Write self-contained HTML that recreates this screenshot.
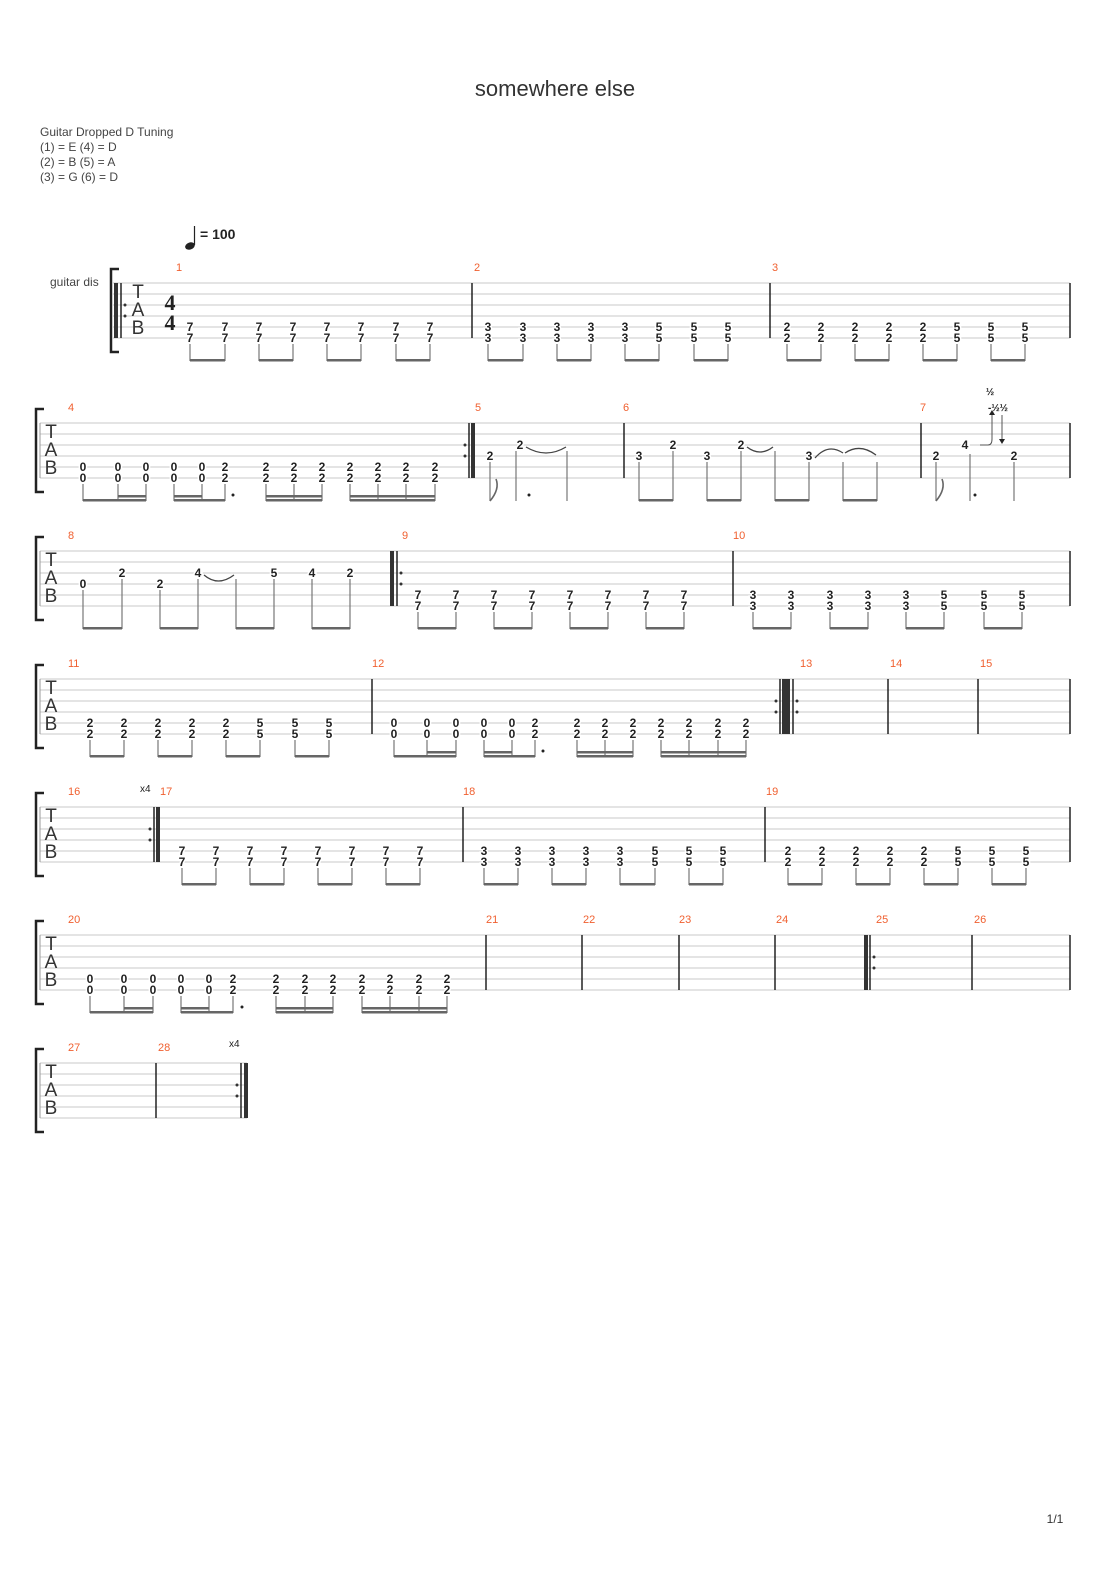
<!DOCTYPE html>
<html><head><meta charset="utf-8"><style>
body{margin:0;background:#fff;width:1110px;height:1570px;overflow:hidden}
svg{display:block}
.n{font:bold 12px "Liberation Sans",sans-serif;fill:#222;text-anchor:middle;stroke:#fff;stroke-width:3px;paint-order:stroke}
.l{font:11px "Liberation Sans",sans-serif;fill:#f06030}
.t{font:12px "Liberation Sans",sans-serif;fill:#444}
.tab{font:19px "Liberation Sans",sans-serif;fill:#333;text-anchor:middle}
.sl line{stroke:#c8c8c8;stroke-width:1}
.st{stroke:#777;stroke-width:1.2}
.bm{fill:#666}
.bar{stroke:#222;stroke-width:1.5}
</style></head><body>
<svg width="1110" height="1570" viewBox="0 0 1110 1570" xmlns="http://www.w3.org/2000/svg">
<text x="555" y="96" text-anchor="middle" style="font:22px 'Liberation Sans',sans-serif;fill:#333">somewhere else</text>
<text class="t" x="40" y="136">Guitar Dropped D Tuning</text>
<text class="t" x="40" y="151">(1) = E (4) = D</text>
<text class="t" x="40" y="166">(2) = B (5) = A</text>
<text class="t" x="40" y="181">(3) = G (6) = D</text>
<ellipse cx="190" cy="246" rx="5" ry="3.5" fill="#222" transform="rotate(-20 190 246)"/>
<line x1="194.5" y1="245" x2="194.5" y2="226" stroke="#222" stroke-width="1.2"/>
<text x="200" y="239" style="font:bold 14px 'Liberation Sans',sans-serif;fill:#222">= 100</text>
<text class="t" x="50" y="286">guitar dis</text>

<!-- SYSTEM 1 -->
<g transform="translate(0,283)">
<g class="sl"><line x1="113" x2="1070" y1="0" y2="0"/><line x1="113" x2="1070" y1="11" y2="11"/><line x1="113" x2="1070" y1="22" y2="22"/><line x1="113" x2="1070" y1="33" y2="33"/><line x1="113" x2="1070" y1="44" y2="44"/><line x1="113" x2="1070" y1="55" y2="55"/></g>
<path d="M119,-14 h-8 v83 h8" fill="none" stroke="#222" stroke-width="2.5"/>
<rect x="114" y="0" width="4" height="55" fill="#333"/><line x1="121" x2="121" y1="0" y2="55" class="bar" stroke-width="1"/>
<circle cx="125" cy="22" r="1.5" fill="#333"/><circle cx="125" cy="33" r="1.5" fill="#333"/>
<text class="tab" x="138" y="15">T</text><text class="tab" x="138" y="33">A</text><text class="tab" x="138" y="51">B</text>
<text x="170" y="27" text-anchor="middle" style="font:bold 22px 'Liberation Serif',serif;fill:#222">4</text>
<text x="170" y="47" text-anchor="middle" style="font:bold 22px 'Liberation Serif',serif;fill:#222">4</text>
<text class="l" x="176" y="-12">1</text><text class="l" x="474" y="-12">2</text><text class="l" x="772" y="-12">3</text>
<line class="bar" x1="472" x2="472" y1="0" y2="55"/><line class="bar" x1="770" x2="770" y1="0" y2="55"/><line class="bar" x1="1070" x2="1070" y1="0" y2="55"/>
<g>
<text class="n" x="190" y="48">7</text><text class="n" x="190" y="59">7</text><text class="n" x="225" y="48">7</text><text class="n" x="225" y="59">7</text>
<text class="n" x="259" y="48">7</text><text class="n" x="259" y="59">7</text><text class="n" x="293" y="48">7</text><text class="n" x="293" y="59">7</text>
<text class="n" x="327" y="48">7</text><text class="n" x="327" y="59">7</text><text class="n" x="361" y="48">7</text><text class="n" x="361" y="59">7</text>
<text class="n" x="396" y="48">7</text><text class="n" x="396" y="59">7</text><text class="n" x="430" y="48">7</text><text class="n" x="430" y="59">7</text>
<text class="n" x="488" y="48">3</text><text class="n" x="488" y="59">3</text><text class="n" x="523" y="48">3</text><text class="n" x="523" y="59">3</text>
<text class="n" x="557" y="48">3</text><text class="n" x="557" y="59">3</text><text class="n" x="591" y="48">3</text><text class="n" x="591" y="59">3</text>
<text class="n" x="625" y="48">3</text><text class="n" x="625" y="59">3</text><text class="n" x="659" y="48">5</text><text class="n" x="659" y="59">5</text>
<text class="n" x="694" y="48">5</text><text class="n" x="694" y="59">5</text><text class="n" x="728" y="48">5</text><text class="n" x="728" y="59">5</text>
<text class="n" x="787" y="48">2</text><text class="n" x="787" y="59">2</text><text class="n" x="821" y="48">2</text><text class="n" x="821" y="59">2</text>
<text class="n" x="855" y="48">2</text><text class="n" x="855" y="59">2</text><text class="n" x="889" y="48">2</text><text class="n" x="889" y="59">2</text>
<text class="n" x="923" y="48">2</text><text class="n" x="923" y="59">2</text><text class="n" x="957" y="48">5</text><text class="n" x="957" y="59">5</text>
<text class="n" x="991" y="48">5</text><text class="n" x="991" y="59">5</text><text class="n" x="1025" y="48">5</text><text class="n" x="1025" y="59">5</text>
</g>
<path class="st" d="M190,61V78M225,61V78M259,61V78M293,61V78M327,61V78M361,61V78M396,61V78M430,61V78M488,61V78M523,61V78M557,61V78M591,61V78M625,61V78M659,61V78M694,61V78M728,61V78M787,61V78M821,61V78M855,61V78M889,61V78M923,61V78M957,61V78M991,61V78M1025,61V78"/>
<g class="bm"><rect x="190" y="76" width="35" height="2.5"/><rect x="259" y="76" width="34" height="2.5"/><rect x="327" y="76" width="34" height="2.5"/><rect x="396" y="76" width="34" height="2.5"/>
<rect x="488" y="76" width="35" height="2.5"/><rect x="557" y="76" width="34" height="2.5"/><rect x="625" y="76" width="34" height="2.5"/><rect x="694" y="76" width="34" height="2.5"/>
<rect x="787" y="76" width="34" height="2.5"/><rect x="855" y="76" width="34" height="2.5"/><rect x="923" y="76" width="34" height="2.5"/><rect x="991" y="76" width="34" height="2.5"/></g>
</g>

<!-- SYSTEM 2 -->
<g transform="translate(0,423)">
<g class="sl"><line x1="40" x2="1070" y1="0" y2="0"/><line x1="40" x2="1070" y1="11" y2="11"/><line x1="40" x2="1070" y1="22" y2="22"/><line x1="40" x2="1070" y1="33" y2="33"/><line x1="40" x2="1070" y1="44" y2="44"/><line x1="40" x2="1070" y1="55" y2="55"/></g>
<path d="M44,-14 h-8 v83 h8" fill="none" stroke="#222" stroke-width="2.5"/><line x1="40" x2="40" y1="0" y2="55" stroke="#999"/>
<text class="tab" x="51" y="15">T</text><text class="tab" x="51" y="33">A</text><text class="tab" x="51" y="51">B</text>
<text class="l" x="68" y="-12">4</text><text class="l" x="475" y="-12">5</text><text class="l" x="623" y="-12">6</text><text class="l" x="920" y="-12">7</text>
<circle cx="465" cy="22" r="1.5" fill="#333"/><circle cx="465" cy="33" r="1.5" fill="#333"/><line x1="469" x2="469" y1="0" y2="55" class="bar" stroke-width="1"/><rect x="471" y="0" width="4" height="55" fill="#333"/>
<line class="bar" x1="624" x2="624" y1="0" y2="55"/><line class="bar" x1="921" x2="921" y1="0" y2="55"/><line class="bar" x1="1070" x2="1070" y1="0" y2="55"/>
<text class="n" x="83" y="48">0</text><text class="n" x="83" y="59">0</text><text class="n" x="118" y="48">0</text><text class="n" x="118" y="59">0</text>
<text class="n" x="146" y="48">0</text><text class="n" x="146" y="59">0</text><text class="n" x="174" y="48">0</text><text class="n" x="174" y="59">0</text>
<text class="n" x="202" y="48">0</text><text class="n" x="202" y="59">0</text><text class="n" x="225" y="48">2</text><text class="n" x="225" y="59">2</text>
<text class="n" x="266" y="48">2</text><text class="n" x="266" y="59">2</text><text class="n" x="294" y="48">2</text><text class="n" x="294" y="59">2</text>
<text class="n" x="322" y="48">2</text><text class="n" x="322" y="59">2</text><text class="n" x="350" y="48">2</text><text class="n" x="350" y="59">2</text>
<text class="n" x="378" y="48">2</text><text class="n" x="378" y="59">2</text><text class="n" x="406" y="48">2</text><text class="n" x="406" y="59">2</text>
<text class="n" x="435" y="48">2</text><text class="n" x="435" y="59">2</text>
<path class="st" d="M83,61V78M118,61V78M146,61V78M174,61V78M202,61V78M225,61V78M266,61V78M294,61V78M322,61V78M350,61V78M378,61V78M406,61V78M435,61V78"/>
<g class="bm"><rect x="83" y="76" width="63" height="2.5"/><rect x="118" y="72" width="28" height="2.5"/><rect x="174" y="76" width="51" height="2.5"/><rect x="174" y="72" width="28" height="2.5"/>
<rect x="266" y="76" width="56" height="2.5"/><rect x="266" y="72" width="56" height="2.5"/><rect x="350" y="76" width="85" height="2.5"/><rect x="350" y="72" width="85" height="2.5"/></g>
<circle cx="233" cy="72" r="1.5" fill="#222"/>
<!-- m5 -->
<text class="n" x="490" y="37">2</text><text class="n" x="520" y="26">2</text>
<path d="M526,24 Q546,36 566,24" fill="none" stroke="#444" stroke-width="1.3"/>
<path class="st" d="M490,39V78M516,28V78M567,28V78"/>
<path d="M490,78 Q500,66 496,56" fill="none" stroke="#666" stroke-width="1.6"/>
<circle cx="529" cy="72" r="1.5" fill="#222"/>
<!-- m6 -->
<text class="n" x="639" y="37">3</text><text class="n" x="673" y="26">2</text><text class="n" x="707" y="37">3</text><text class="n" x="741" y="26">2</text><text class="n" x="809" y="37">3</text>
<path d="M747,24 Q760,34 773,24M815,35 Q828,20 843,30M845,30 Q860,20 876,32" fill="none" stroke="#444" stroke-width="1.3"/>
<path class="st" d="M639,39V78M673,28V78M707,39V78M741,28V78M775,28V78M809,39V78M843,39V78M877,39V78"/>
<g class="bm"><rect x="639" y="76" width="34" height="2.5"/><rect x="707" y="76" width="34" height="2.5"/><rect x="775" y="76" width="34" height="2.5"/><rect x="843" y="76" width="34" height="2.5"/></g>
<!-- m7 -->
<text class="n" x="936" y="37">2</text><text class="n" x="965" y="26">4</text><text class="n" x="1014" y="37">2</text>
<path class="st" d="M936,39V78M970,31V78M1014,39V78"/>
<path d="M936,78 Q946,66 942,56" fill="none" stroke="#666" stroke-width="1.6"/>
<circle cx="975" cy="72" r="1.5" fill="#222"/>
<path d="M980,22 H988 Q992,22 992,16 V-8 M1002,-8 V18" fill="none" stroke="#555" stroke-width="1"/>
<path d="M989,-8 l3,-5 l3,5z M999,16 l3,5 l3,-5z" fill="#222"/>
<text x="990" y="-28" text-anchor="middle" style="font:bold 10px 'Liberation Sans',sans-serif;fill:#222">½</text>
<text x="998" y="-12" text-anchor="middle" style="font:bold 10px 'Liberation Sans',sans-serif;fill:#222">-½½</text>
</g>

<!-- SYSTEM 3 -->
<g transform="translate(0,551)">
<g class="sl"><line x1="40" x2="1070" y1="0" y2="0"/><line x1="40" x2="1070" y1="11" y2="11"/><line x1="40" x2="1070" y1="22" y2="22"/><line x1="40" x2="1070" y1="33" y2="33"/><line x1="40" x2="1070" y1="44" y2="44"/><line x1="40" x2="1070" y1="55" y2="55"/></g>
<path d="M44,-14 h-8 v83 h8" fill="none" stroke="#222" stroke-width="2.5"/><line x1="40" x2="40" y1="0" y2="55" stroke="#999"/>
<text class="tab" x="51" y="15">T</text><text class="tab" x="51" y="33">A</text><text class="tab" x="51" y="51">B</text>
<text class="l" x="68" y="-12">8</text><text class="l" x="402" y="-12">9</text><text class="l" x="733" y="-12">10</text>
<rect x="390" y="0" width="4" height="55" fill="#333"/><line x1="397" x2="397" y1="0" y2="55" class="bar" stroke-width="1"/><circle cx="401" cy="22" r="1.5" fill="#333"/><circle cx="401" cy="33" r="1.5" fill="#333"/>
<line class="bar" x1="733" x2="733" y1="0" y2="55"/><line class="bar" x1="1070" x2="1070" y1="0" y2="55"/>
<text class="n" x="83" y="37">0</text><text class="n" x="122" y="26">2</text><text class="n" x="160" y="37">2</text><text class="n" x="198" y="26">4</text><text class="n" x="274" y="26">5</text><text class="n" x="312" y="26">4</text><text class="n" x="350" y="26">2</text>
<path d="M204,24 Q218,36 234,24" fill="none" stroke="#444" stroke-width="1.3"/>
<path class="st" d="M83,39V78M122,28V78M160,39V78M198,28V78M236,28V78M274,28V78M312,28V78M350,28V78"/>
<g class="bm"><rect x="83" y="76" width="39" height="2.5"/><rect x="160" y="76" width="38" height="2.5"/><rect x="236" y="76" width="38" height="2.5"/><rect x="312" y="76" width="38" height="2.5"/></g>
<text class="n" x="418" y="48">7</text><text class="n" x="418" y="59">7</text><text class="n" x="456" y="48">7</text><text class="n" x="456" y="59">7</text>
<text class="n" x="494" y="48">7</text><text class="n" x="494" y="59">7</text><text class="n" x="532" y="48">7</text><text class="n" x="532" y="59">7</text>
<text class="n" x="570" y="48">7</text><text class="n" x="570" y="59">7</text><text class="n" x="608" y="48">7</text><text class="n" x="608" y="59">7</text>
<text class="n" x="646" y="48">7</text><text class="n" x="646" y="59">7</text><text class="n" x="684" y="48">7</text><text class="n" x="684" y="59">7</text>
<text class="n" x="753" y="48">3</text><text class="n" x="753" y="59">3</text><text class="n" x="791" y="48">3</text><text class="n" x="791" y="59">3</text>
<text class="n" x="830" y="48">3</text><text class="n" x="830" y="59">3</text><text class="n" x="868" y="48">3</text><text class="n" x="868" y="59">3</text>
<text class="n" x="906" y="48">3</text><text class="n" x="906" y="59">3</text><text class="n" x="944" y="48">5</text><text class="n" x="944" y="59">5</text>
<text class="n" x="984" y="48">5</text><text class="n" x="984" y="59">5</text><text class="n" x="1022" y="48">5</text><text class="n" x="1022" y="59">5</text>
<path class="st" d="M418,61V78M456,61V78M494,61V78M532,61V78M570,61V78M608,61V78M646,61V78M684,61V78M753,61V78M791,61V78M830,61V78M868,61V78M906,61V78M944,61V78M984,61V78M1022,61V78"/>
<g class="bm"><rect x="418" y="76" width="38" height="2.5"/><rect x="494" y="76" width="38" height="2.5"/><rect x="570" y="76" width="38" height="2.5"/><rect x="646" y="76" width="38" height="2.5"/>
<rect x="753" y="76" width="38" height="2.5"/><rect x="830" y="76" width="38" height="2.5"/><rect x="906" y="76" width="38" height="2.5"/><rect x="984" y="76" width="38" height="2.5"/></g>
</g>

<!-- SYSTEM 4 -->
<g transform="translate(0,679)">
<g class="sl"><line x1="40" x2="1070" y1="0" y2="0"/><line x1="40" x2="1070" y1="11" y2="11"/><line x1="40" x2="1070" y1="22" y2="22"/><line x1="40" x2="1070" y1="33" y2="33"/><line x1="40" x2="1070" y1="44" y2="44"/><line x1="40" x2="1070" y1="55" y2="55"/></g>
<path d="M44,-14 h-8 v83 h8" fill="none" stroke="#222" stroke-width="2.5"/><line x1="40" x2="40" y1="0" y2="55" stroke="#999"/>
<text class="tab" x="51" y="15">T</text><text class="tab" x="51" y="33">A</text><text class="tab" x="51" y="51">B</text>
<text class="l" x="68" y="-12">11</text><text class="l" x="372" y="-12">12</text><text class="l" x="800" y="-12">13</text><text class="l" x="890" y="-12">14</text><text class="l" x="980" y="-12">15</text>
<line class="bar" x1="372" x2="372" y1="0" y2="55"/>
<circle cx="776" cy="22" r="1.5" fill="#333"/><circle cx="776" cy="33" r="1.5" fill="#333"/><line x1="780" x2="780" y1="0" y2="55" class="bar" stroke-width="1"/><rect x="782" y="0" width="8" height="55" fill="#333"/><line x1="793" x2="793" y1="0" y2="55" class="bar" stroke-width="1"/><circle cx="797" cy="22" r="1.5" fill="#333"/><circle cx="797" cy="33" r="1.5" fill="#333"/>
<line class="bar" x1="888" x2="888" y1="0" y2="55"/><line class="bar" x1="978" x2="978" y1="0" y2="55"/><line class="bar" x1="1070" x2="1070" y1="0" y2="55"/>
<text class="n" x="90" y="48">2</text><text class="n" x="90" y="59">2</text><text class="n" x="124" y="48">2</text><text class="n" x="124" y="59">2</text>
<text class="n" x="158" y="48">2</text><text class="n" x="158" y="59">2</text><text class="n" x="192" y="48">2</text><text class="n" x="192" y="59">2</text>
<text class="n" x="226" y="48">2</text><text class="n" x="226" y="59">2</text><text class="n" x="260" y="48">5</text><text class="n" x="260" y="59">5</text>
<text class="n" x="295" y="48">5</text><text class="n" x="295" y="59">5</text><text class="n" x="329" y="48">5</text><text class="n" x="329" y="59">5</text>
<text class="n" x="394" y="48">0</text><text class="n" x="394" y="59">0</text><text class="n" x="427" y="48">0</text><text class="n" x="427" y="59">0</text>
<text class="n" x="456" y="48">0</text><text class="n" x="456" y="59">0</text><text class="n" x="484" y="48">0</text><text class="n" x="484" y="59">0</text>
<text class="n" x="512" y="48">0</text><text class="n" x="512" y="59">0</text><text class="n" x="535" y="48">2</text><text class="n" x="535" y="59">2</text>
<text class="n" x="577" y="48">2</text><text class="n" x="577" y="59">2</text><text class="n" x="605" y="48">2</text><text class="n" x="605" y="59">2</text>
<text class="n" x="633" y="48">2</text><text class="n" x="633" y="59">2</text><text class="n" x="661" y="48">2</text><text class="n" x="661" y="59">2</text>
<text class="n" x="689" y="48">2</text><text class="n" x="689" y="59">2</text><text class="n" x="718" y="48">2</text><text class="n" x="718" y="59">2</text>
<text class="n" x="746" y="48">2</text><text class="n" x="746" y="59">2</text>
<path class="st" d="M90,61V78M124,61V78M158,61V78M192,61V78M226,61V78M260,61V78M295,61V78M329,61V78M394,61V78M427,61V78M456,61V78M484,61V78M512,61V78M535,61V78M577,61V78M605,61V78M633,61V78M661,61V78M689,61V78M718,61V78M746,61V78"/>
<g class="bm"><rect x="90" y="76" width="34" height="2.5"/><rect x="158" y="76" width="34" height="2.5"/><rect x="226" y="76" width="34" height="2.5"/><rect x="295" y="76" width="34" height="2.5"/>
<rect x="394" y="76" width="62" height="2.5"/><rect x="427" y="72" width="29" height="2.5"/><rect x="484" y="76" width="51" height="2.5"/><rect x="484" y="72" width="28" height="2.5"/>
<rect x="577" y="76" width="56" height="2.5"/><rect x="577" y="72" width="56" height="2.5"/><rect x="661" y="76" width="85" height="2.5"/><rect x="661" y="72" width="85" height="2.5"/></g>
<circle cx="543" cy="72" r="1.5" fill="#222"/>
</g>

<!-- SYSTEM 5 -->
<g transform="translate(0,807)">
<g class="sl"><line x1="40" x2="1070" y1="0" y2="0"/><line x1="40" x2="1070" y1="11" y2="11"/><line x1="40" x2="1070" y1="22" y2="22"/><line x1="40" x2="1070" y1="33" y2="33"/><line x1="40" x2="1070" y1="44" y2="44"/><line x1="40" x2="1070" y1="55" y2="55"/></g>
<path d="M44,-14 h-8 v83 h8" fill="none" stroke="#222" stroke-width="2.5"/><line x1="40" x2="40" y1="0" y2="55" stroke="#999"/>
<text class="tab" x="51" y="15">T</text><text class="tab" x="51" y="33">A</text><text class="tab" x="51" y="51">B</text>
<text class="l" x="68" y="-12">16</text><text class="l" x="160" y="-12">17</text><text class="l" x="463" y="-12">18</text><text class="l" x="766" y="-12">19</text>
<text x="140" y="-15" style="font:10px 'Liberation Sans',sans-serif;fill:#222">x4</text>
<circle cx="150" cy="22" r="1.5" fill="#333"/><circle cx="150" cy="33" r="1.5" fill="#333"/><line x1="154" x2="154" y1="0" y2="55" class="bar" stroke-width="1"/><rect x="156" y="0" width="4" height="55" fill="#333"/>
<line class="bar" x1="463" x2="463" y1="0" y2="55"/><line class="bar" x1="765" x2="765" y1="0" y2="55"/><line class="bar" x1="1070" x2="1070" y1="0" y2="55"/>
<text class="n" x="182" y="48">7</text><text class="n" x="182" y="59">7</text><text class="n" x="216" y="48">7</text><text class="n" x="216" y="59">7</text>
<text class="n" x="250" y="48">7</text><text class="n" x="250" y="59">7</text><text class="n" x="284" y="48">7</text><text class="n" x="284" y="59">7</text>
<text class="n" x="318" y="48">7</text><text class="n" x="318" y="59">7</text><text class="n" x="352" y="48">7</text><text class="n" x="352" y="59">7</text>
<text class="n" x="386" y="48">7</text><text class="n" x="386" y="59">7</text><text class="n" x="420" y="48">7</text><text class="n" x="420" y="59">7</text>
<text class="n" x="484" y="48">3</text><text class="n" x="484" y="59">3</text><text class="n" x="518" y="48">3</text><text class="n" x="518" y="59">3</text>
<text class="n" x="552" y="48">3</text><text class="n" x="552" y="59">3</text><text class="n" x="586" y="48">3</text><text class="n" x="586" y="59">3</text>
<text class="n" x="620" y="48">3</text><text class="n" x="620" y="59">3</text><text class="n" x="655" y="48">5</text><text class="n" x="655" y="59">5</text>
<text class="n" x="689" y="48">5</text><text class="n" x="689" y="59">5</text><text class="n" x="723" y="48">5</text><text class="n" x="723" y="59">5</text>
<text class="n" x="788" y="48">2</text><text class="n" x="788" y="59">2</text><text class="n" x="822" y="48">2</text><text class="n" x="822" y="59">2</text>
<text class="n" x="856" y="48">2</text><text class="n" x="856" y="59">2</text><text class="n" x="890" y="48">2</text><text class="n" x="890" y="59">2</text>
<text class="n" x="924" y="48">2</text><text class="n" x="924" y="59">2</text><text class="n" x="958" y="48">5</text><text class="n" x="958" y="59">5</text>
<text class="n" x="992" y="48">5</text><text class="n" x="992" y="59">5</text><text class="n" x="1026" y="48">5</text><text class="n" x="1026" y="59">5</text>
<path class="st" d="M182,61V78M216,61V78M250,61V78M284,61V78M318,61V78M352,61V78M386,61V78M420,61V78M484,61V78M518,61V78M552,61V78M586,61V78M620,61V78M655,61V78M689,61V78M723,61V78M788,61V78M822,61V78M856,61V78M890,61V78M924,61V78M958,61V78M992,61V78M1026,61V78"/>
<g class="bm"><rect x="182" y="76" width="34" height="2.5"/><rect x="250" y="76" width="34" height="2.5"/><rect x="318" y="76" width="34" height="2.5"/><rect x="386" y="76" width="34" height="2.5"/>
<rect x="484" y="76" width="34" height="2.5"/><rect x="552" y="76" width="34" height="2.5"/><rect x="620" y="76" width="35" height="2.5"/><rect x="689" y="76" width="34" height="2.5"/>
<rect x="788" y="76" width="34" height="2.5"/><rect x="856" y="76" width="34" height="2.5"/><rect x="924" y="76" width="34" height="2.5"/><rect x="992" y="76" width="34" height="2.5"/></g>
</g>

<!-- SYSTEM 6 -->
<g transform="translate(0,935)">
<g class="sl"><line x1="40" x2="1070" y1="0" y2="0"/><line x1="40" x2="1070" y1="11" y2="11"/><line x1="40" x2="1070" y1="22" y2="22"/><line x1="40" x2="1070" y1="33" y2="33"/><line x1="40" x2="1070" y1="44" y2="44"/><line x1="40" x2="1070" y1="55" y2="55"/></g>
<path d="M44,-14 h-8 v83 h8" fill="none" stroke="#222" stroke-width="2.5"/><line x1="40" x2="40" y1="0" y2="55" stroke="#999"/>
<text class="tab" x="51" y="15">T</text><text class="tab" x="51" y="33">A</text><text class="tab" x="51" y="51">B</text>
<text class="l" x="68" y="-12">20</text><text class="l" x="486" y="-12">21</text><text class="l" x="583" y="-12">22</text><text class="l" x="679" y="-12">23</text><text class="l" x="776" y="-12">24</text><text class="l" x="876" y="-12">25</text><text class="l" x="974" y="-12">26</text>
<line class="bar" x1="486" x2="486" y1="0" y2="55"/><line class="bar" x1="582" x2="582" y1="0" y2="55"/><line class="bar" x1="679" x2="679" y1="0" y2="55"/><line class="bar" x1="775" x2="775" y1="0" y2="55"/>
<rect x="864" y="0" width="4" height="55" fill="#333"/><line x1="870" x2="870" y1="0" y2="55" class="bar" stroke-width="1"/><circle cx="874" cy="22" r="1.5" fill="#333"/><circle cx="874" cy="33" r="1.5" fill="#333"/>
<line class="bar" x1="972" x2="972" y1="0" y2="55"/><line class="bar" x1="1070" x2="1070" y1="0" y2="55"/>
<text class="n" x="90" y="48">0</text><text class="n" x="90" y="59">0</text><text class="n" x="124" y="48">0</text><text class="n" x="124" y="59">0</text>
<text class="n" x="153" y="48">0</text><text class="n" x="153" y="59">0</text><text class="n" x="181" y="48">0</text><text class="n" x="181" y="59">0</text>
<text class="n" x="209" y="48">0</text><text class="n" x="209" y="59">0</text><text class="n" x="233" y="48">2</text><text class="n" x="233" y="59">2</text>
<text class="n" x="276" y="48">2</text><text class="n" x="276" y="59">2</text><text class="n" x="305" y="48">2</text><text class="n" x="305" y="59">2</text>
<text class="n" x="333" y="48">2</text><text class="n" x="333" y="59">2</text><text class="n" x="362" y="48">2</text><text class="n" x="362" y="59">2</text>
<text class="n" x="390" y="48">2</text><text class="n" x="390" y="59">2</text><text class="n" x="419" y="48">2</text><text class="n" x="419" y="59">2</text>
<text class="n" x="447" y="48">2</text><text class="n" x="447" y="59">2</text>
<path class="st" d="M90,61V78M124,61V78M153,61V78M181,61V78M209,61V78M233,61V78M276,61V78M305,61V78M333,61V78M362,61V78M390,61V78M419,61V78M447,61V78"/>
<g class="bm"><rect x="90" y="76" width="63" height="2.5"/><rect x="124" y="72" width="29" height="2.5"/><rect x="181" y="76" width="52" height="2.5"/><rect x="181" y="72" width="28" height="2.5"/>
<rect x="276" y="76" width="57" height="2.5"/><rect x="276" y="72" width="57" height="2.5"/><rect x="362" y="76" width="85" height="2.5"/><rect x="362" y="72" width="85" height="2.5"/></g>
<circle cx="242" cy="72" r="1.5" fill="#222"/>
</g>

<!-- SYSTEM 7 -->
<g transform="translate(0,1063)">
<g class="sl"><line x1="40" x2="247" y1="0" y2="0"/><line x1="40" x2="247" y1="11" y2="11"/><line x1="40" x2="247" y1="22" y2="22"/><line x1="40" x2="247" y1="33" y2="33"/><line x1="40" x2="247" y1="44" y2="44"/><line x1="40" x2="247" y1="55" y2="55"/></g>
<path d="M44,-14 h-8 v83 h8" fill="none" stroke="#222" stroke-width="2.5"/><line x1="40" x2="40" y1="0" y2="55" stroke="#999"/>
<text class="tab" x="51" y="15">T</text><text class="tab" x="51" y="33">A</text><text class="tab" x="51" y="51">B</text>
<text class="l" x="68" y="-12">27</text><text class="l" x="158" y="-12">28</text>
<text x="229" y="-16" style="font:10px 'Liberation Sans',sans-serif;fill:#222">x4</text>
<line class="bar" x1="156" x2="156" y1="0" y2="55"/>
<circle cx="237" cy="22" r="1.5" fill="#333"/><circle cx="237" cy="33" r="1.5" fill="#333"/><line x1="241" x2="241" y1="0" y2="55" class="bar" stroke-width="1"/><rect x="244" y="0" width="4" height="55" fill="#333"/>
</g>

<text x="1055" y="1523" text-anchor="middle" style="font:12px 'Liberation Sans',sans-serif;fill:#333">1/1</text>
</svg>
</body></html>
